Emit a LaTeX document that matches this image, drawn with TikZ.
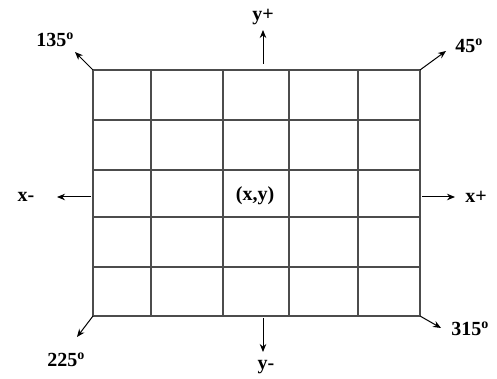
\documentclass[tikz,border=0pt]{standalone}
\usepackage{fontspec}
\setmainfont{Liberation Serif}
\usetikzlibrary{arrows.meta,positioning}

\begin{document}
\begin{tikzpicture}[x=1pt,y=-1pt,
  gridline/.style={draw=black!70,line width=1.2pt},
  arr/.style={-{Stealth[length=8pt,width=6.5pt]},line width=1pt},
  lbl/.style={font=\bfseries\fontsize{20}{20}\selectfont,inner sep=0pt}
]
\useasboundingbox (0,0) rectangle (497,379);

% grid
\foreach \gx in {93,151,223,289,358,420}
  \draw[gridline] (\gx,70) -- (\gx,316);
\foreach \gy in {70,120,170,217,267,316}
  \draw[gridline] (93,\gy) -- (420,\gy);

% corners and arrow ends
\coordinate (nw) at (93,70);
\coordinate (ne) at (420,70);
\coordinate (sw) at (93,316);
\coordinate (se) at (420,316);
\coordinate (top) at (263,64);
\coordinate (bot) at (263,318);
\coordinate (lft) at (91,197);
\coordinate (rgt) at (422,197);

\coordinate (t135) at (75,52);
\coordinate (t45) at (446,51);
\coordinate (t225) at (77,337);
\coordinate (t315) at (441,328);
\coordinate (typ) at (263,30);
\coordinate (tym) at (263,352);
\coordinate (txm) at (57,197);
\coordinate (txp) at (455,197);

% labels
\node[lbl] (centre) at (255,196) {(x,y)};
\node[lbl] (l135) at (55,40) {135\textsuperscript{o}};
\node[lbl] (l45) at (469,46) {45\textsuperscript{o}};
\node[lbl] (l225) at (66,360) {225\textsuperscript{o}};
\node[lbl] (l315) at (470,329) {315\textsuperscript{o}};
\node[lbl] (lyp) at (263,17) {y+};
\node[lbl] (lym) at (266,367) {y-};
\node[lbl] (lxm) at (26,197) {x-};
\node[lbl] (lxp) at (476,197) {x+};

% arrows
\draw[arr] (nw) -- (t135);
\draw[arr] (ne) -- (t45);
\draw[arr] (sw) -- (t225);
\draw[arr] (se) -- (t315);
\draw[arr] (top) -- (typ);
\draw[arr] (bot) -- (tym);
\draw[arr] (lft) -- (txm);
\draw[arr] (rgt) -- (txp);

\end{tikzpicture}
\end{document}
